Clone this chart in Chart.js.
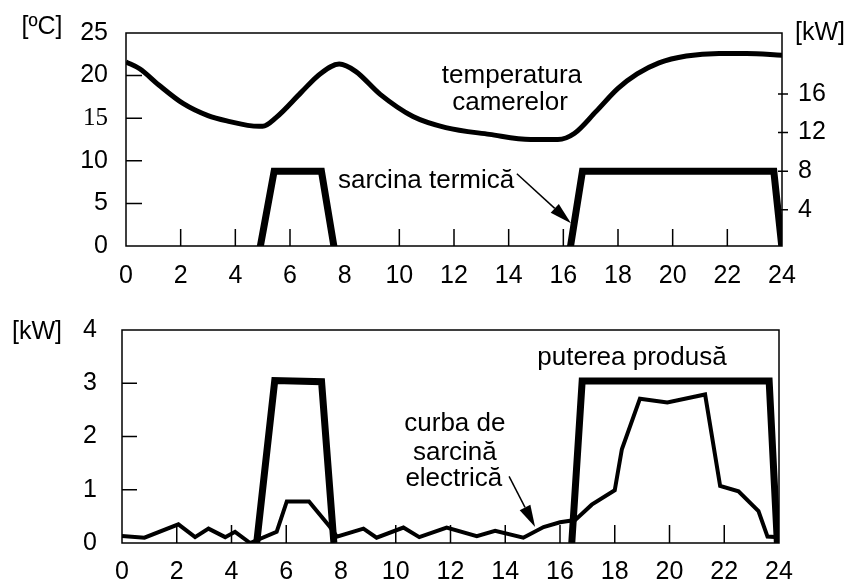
<!DOCTYPE html>
<html>
<head>
<meta charset="utf-8">
<script src="https://cdn.jsdelivr.net/npm/chart.js@4.4.1/dist/chart.umd.min.js"></script>
<style>
html, body { margin: 0; padding: 0; background: #fff; }
#wrap { position: relative; width: 849px; height: 583px; overflow: hidden; }
#topChart { position: absolute; left: 0; top: 0; }
#bottomChart { position: absolute; left: 0; top: 290px; }
</style>
</head>
<body>
<div id="wrap">
  <canvas id="topChart" width="849" height="290" style="width:849px;height:290px"></canvas>
  <canvas id="bottomChart" width="849" height="293" style="width:849px;height:293px"></canvas>
</div>
<script>
// Top chart - room temperature (left axis, °C) and heat load (right axis, kW)
const tempHours = [0, 0.5, 1.2, 2.1, 3.0, 3.8, 4.6, 5.0, 5.5, 6.4, 7.1, 7.8, 8.4, 9.3, 10.5, 11.7, 13.3, 14.8, 15.8, 16.4, 17.2, 18.0, 18.7, 19.5, 20.5, 21.7, 22.7, 24];
const roomTemp = [21.6, 20.8, 18.9, 16.7, 15.3, 14.6, 14.1, 14.05, 15.1, 18.0, 20.2, 21.35, 20.5, 17.8, 15.2, 13.9, 13.1, 12.5, 12.5, 13.2, 15.8, 18.5, 20.2, 21.5, 22.3, 22.6, 22.6, 22.4];
const heatHours = [4.9, 5.42, 7.15, 7.62, 12, 16.25, 16.7, 23.7, 24.0];
const heatLoad = [0, 8, 8, 0, null, 0, 8, 8, 0];

// Bottom chart - produced power and electric load curve (kW)
const powerHours = [4.92, 5.58, 7.29, 7.74, 12, 16.43, 16.81, 23.64, 23.94];
const powerOut = [0, 3.05, 3.03, 0, null, 0, 3.04, 3.04, 0];
const elecHours = [0, 0.82, 2.06, 2.67, 3.16, 3.77, 4.13, 4.68, 5.65, 6.02, 6.83, 7.6, 7.85, 8.82, 9.3, 10.28, 10.86, 11.86, 12.96, 13.63, 14.66, 15.4, 16.0, 16.55, 17.16, 18.0, 18.26, 18.92, 19.92, 21.3, 21.85, 22.52, 23.25, 23.58, 24];
const elecLoad = [0.13, 0.10, 0.35, 0.11, 0.27, 0.11, 0.21, 0.0, 0.21, 0.78, 0.78, 0.30, 0.12, 0.27, 0.10, 0.29, 0.11, 0.29, 0.13, 0.23, 0.10, 0.30, 0.39, 0.43, 0.72, 0.99, 1.76, 2.71, 2.64, 2.79, 1.07, 0.97, 0.60, 0.12, 0.11];

// Tick values
const tempTicks = [5, 10, 15, 20];
const heatTicks = [4, 8, 12, 16];
const kwTicks = [1, 2, 3];
const hourTicks = [2, 4, 6, 10, 12, 14, 16, 18, 20, 22];

const SANS = '"Liberation Sans", Arial, sans-serif';
const SERIF = '"Liberation Serif", "Times New Roman", serif';

function zip(xs, ys) {
    return xs.map((x, i) => ({ x: x, y: ys[i] }));
}

// frame, inward tick marks, notes and arrows
const decor = {
    id: 'decor',
    afterDraw(chart, args, opts) {
        const ctx = chart.ctx;
        const a = chart.chartArea;
        const x = chart.scales.x;
        const y = chart.scales.y;
        ctx.save();
        ctx.strokeStyle = '#000';
        ctx.lineWidth = 1.5;
        ctx.strokeRect(a.left, a.top, a.right - a.left, a.bottom - a.top);

        ctx.beginPath();
        opts.leftTicks.forEach(v => {
            const py = y.getPixelForValue(v);
            ctx.moveTo(a.left, py);
            ctx.lineTo(a.left + opts.leftLen, py);
        });
        opts.xTicks.forEach(v => {
            const px = x.getPixelForValue(v);
            ctx.moveTo(px, a.bottom);
            ctx.lineTo(px, a.bottom - opts.xLen);
        });
        if (opts.rightTicks) {
            const y1 = chart.scales.y1;
            opts.rightTicks.forEach(v => {
                const py = y1.getPixelForValue(v);
                ctx.moveTo(a.right - 4, py);
                ctx.lineTo(a.right + 6, py);
            });
        }
        ctx.stroke();

        ctx.fillStyle = '#000';
        ctx.textAlign = 'center';
        ctx.textBaseline = 'middle';
        ctx.font = '26px ' + SANS;
        opts.notes.forEach(n => {
            ctx.fillText(n.text, x.getPixelForValue(n.x), y.getPixelForValue(n.y));
        });
        ctx.font = '25px ' + SANS;
        opts.units.forEach(u => {
            ctx.fillText(u.text, u.px, u.py);
        });

        opts.arrows.forEach(ar => {
            const x0 = x.getPixelForValue(ar.from[0]), y0 = y.getPixelForValue(ar.from[1]);
            const x1 = x.getPixelForValue(ar.to[0]), y1p = y.getPixelForValue(ar.to[1]);
            const ang = Math.atan2(y1p - y0, x1 - x0);
            const hl = 22, hw = 6;
            ctx.lineWidth = 1.5;
            ctx.beginPath();
            ctx.moveTo(x0, y0);
            ctx.lineTo(x1 - Math.cos(ang) * hl, y1p - Math.sin(ang) * hl);
            ctx.stroke();
            ctx.beginPath();
            ctx.moveTo(x1, y1p);
            ctx.lineTo(x1 - Math.cos(ang) * hl - Math.sin(ang) * hw, y1p - Math.sin(ang) * hl + Math.cos(ang) * hw);
            ctx.lineTo(x1 - Math.cos(ang) * hl + Math.sin(ang) * hw, y1p - Math.sin(ang) * hl - Math.cos(ang) * hw);
            ctx.closePath();
            ctx.fill();
        });
        ctx.restore();
    }
};

function hourAxis(height, pad) {
    return {
        type: 'linear',
        min: 0,
        max: 24,
        grid: { display: false, drawTicks: false },
        border: { display: false },
        ticks: { stepSize: 2, color: '#000', padding: pad, font: { family: SANS, size: 25 } },
        afterFit(scale) { scale.height = height; }
    };
}

function initializeTopChart() {
    const ctx = document.getElementById('topChart');
    new Chart(ctx, {
        type: 'line',
        data: {
            datasets: [{
                data: zip(tempHours, roomTemp),
                yAxisID: 'y',
                borderColor: '#000',
                borderWidth: 5,
                pointRadius: 0,
                cubicInterpolationMode: 'monotone',
                fill: false
            }, {
                data: zip(heatHours, heatLoad),
                yAxisID: 'y1',
                borderColor: '#000',
                borderWidth: 7,
                pointRadius: 0,
                spanGaps: false,
                clip: 0,
                fill: false
            }]
        },
        options: {
            responsive: false,
            animation: false,
            events: [],
            layout: { autoPadding: false, padding: { top: 22, left: 0, right: 0, bottom: 0 } },
            plugins: {
                legend: { display: false },
                tooltip: { enabled: false },
                decor: {
                    leftTicks: tempTicks,
                    leftLen: 16,
                    xTicks: hourTicks.filter(h => h !== 8),
                    xLen: 17,
                    rightTicks: heatTicks,
                    notes: [
                        { text: 'temperatura', x: 14.12, y: 20.0 },
                        { text: 'camerelor', x: 14.05, y: 16.85 },
                        { text: 'sarcina termică', x: 10.98, y: 7.7 }
                    ],
                    units: [
                        { text: '[ºC]', px: 42, py: 27 },
                        { text: '[kW]', px: 820, py: 33 }
                    ],
                    arrows: [{ from: [14.3, 8.48], to: [16.28, 2.68] }]
                }
            },
            scales: {
                x: hourAxis(44, 15),
                y: {
                    position: 'left',
                    min: 0,
                    max: 25,
                    grid: { display: false, drawTicks: false },
                    border: { display: false },
                    ticks: {
                        stepSize: 5,
                        color: '#000',
                        padding: 18,
                        font: function(c) {
                            return c.tick && c.tick.value === 15 ? { family: SERIF, size: 25 } : { family: SANS, size: 25 };
                        }
                    },
                    afterFit(scale) { scale.width = 126; }
                },
                y1: {
                    position: 'right',
                    min: 0.26,
                    max: 22.3,
                    grid: { display: false, drawTicks: false },
                    border: { display: false },
                    ticks: { color: '#000', padding: 16, font: { family: SANS, size: 25 } },
                    afterBuildTicks(scale) { scale.ticks = heatTicks.map(v => ({ value: v })); },
                    afterFit(scale) { scale.width = 67; }
                }
            }
        },
        plugins: [decor]
    });
}

function initializeBottomChart() {
    const ctx = document.getElementById('bottomChart');
    new Chart(ctx, {
        type: 'line',
        data: {
            datasets: [{
                data: zip(powerHours, powerOut),
                borderColor: '#000',
                borderWidth: 7,
                pointRadius: 0,
                spanGaps: false,
                fill: false
            }, {
                data: zip(elecHours, elecLoad),
                borderColor: '#000',
                borderWidth: 4,
                pointRadius: 0,
                fill: false
            }]
        },
        options: {
            responsive: false,
            animation: false,
            events: [],
            layout: { autoPadding: false, padding: { top: 33, left: 0, right: 70, bottom: 0 } },
            plugins: {
                legend: { display: false },
                tooltip: { enabled: false },
                decor: {
                    leftTicks: kwTicks,
                    leftLen: 15,
                    xTicks: hourTicks.filter(h => h !== 8),
                    xLen: 18,
                    notes: [
                        { text: 'puterea produsă', x: 18.63, y: 3.48 },
                        { text: 'curba de', x: 12.16, y: 2.23 },
                        { text: 'sarcină', x: 12.16, y: 1.70 },
                        { text: 'electrică', x: 12.12, y: 1.20 }
                    ],
                    units: [{ text: '[kW]', px: 37, py: 42 }],
                    arrows: [{ from: [14.14, 1.25], to: [15.09, 0.30] }]
                }
            },
            scales: {
                x: hourAxis(36, 14),
                y: {
                    position: 'left',
                    min: 0,
                    max: 4,
                    grid: { display: false, drawTicks: false },
                    border: { display: false },
                    ticks: { stepSize: 1, color: '#000', padding: 25, font: { family: SANS, size: 25 } },
                    afterFit(scale) { scale.width = 122; }
                }
            }
        },
        plugins: [decor]
    });
}

document.addEventListener('DOMContentLoaded', function() {
    initializeTopChart();
    initializeBottomChart();
});
</script>
</body>
</html>
